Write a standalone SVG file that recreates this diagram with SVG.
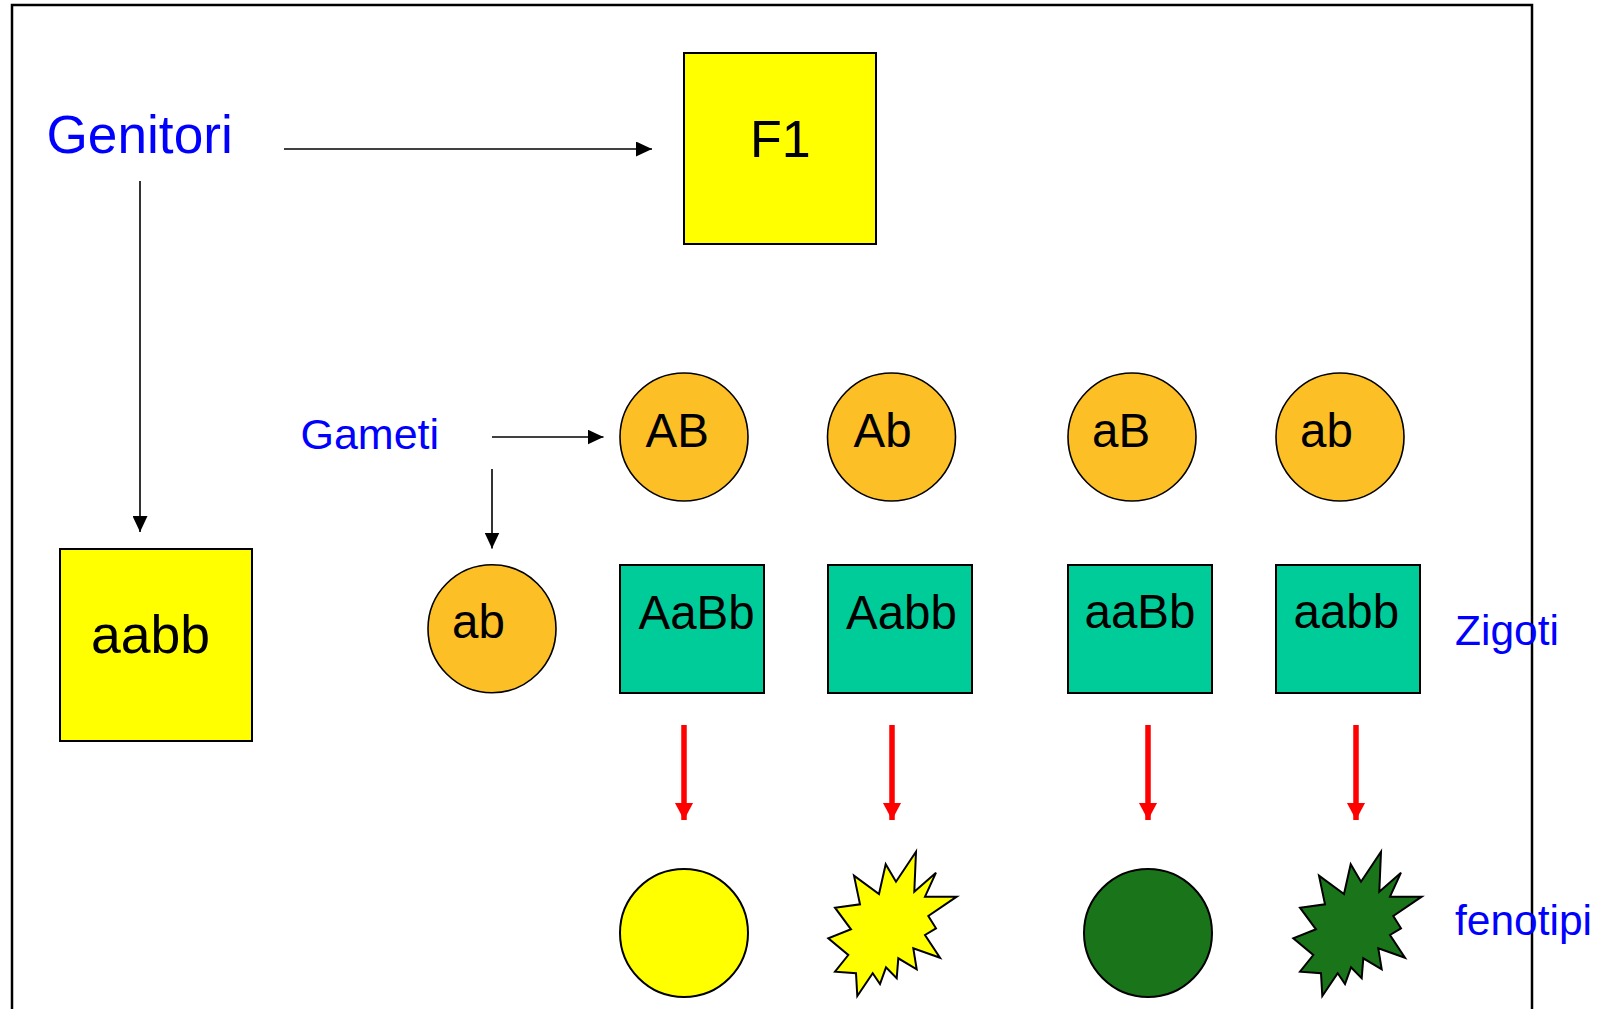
<svg xmlns="http://www.w3.org/2000/svg" width="1609" height="1009" viewBox="0 0 1609 1009">
<defs>
<style>
text { font-family: "Liberation Sans", Arial, sans-serif; }
.lbl { fill: #0000FF; font-size: 42.5px; }
.big { fill: #000; font-size: 52px; }
.g { fill: #000; font-size: 47.5px; }
.gam { fill: #FCBF26; stroke: #000; stroke-width: 1.6; }
.zyg { fill: #00CC99; stroke: #000; stroke-width: 2; }
.par { fill: #FFFF00; stroke: #000; stroke-width: 2; }
.conn { stroke: #000; stroke-width: 1.6; fill: none; }
.red { stroke: #FF0000; stroke-width: 5.5; fill: none; }
</style>
<marker id="ah" markerUnits="userSpaceOnUse" markerWidth="16" markerHeight="15" refX="16" refY="7.5" orient="auto">
<path d="M0,0 L16,7.5 L0,15 z" fill="#000"/>
</marker>
<marker id="rh" markerUnits="userSpaceOnUse" markerWidth="18" markerHeight="18" refX="17" refY="9" orient="auto">
<path d="M0,0 L17,9 L0,18 z" fill="#FF0000"/>
</marker>
<polygon id="star" points="916,851.7 914.3,891.7 936,872.7 925,896.7 956.7,896.7 928.3,916 936,928.3 925,935 940,957.7 913.3,948.3 916.7,969.3 898.3,958.3 896.7,978.3 886,967.3 880,984 872.7,973.3 857.3,996 856,973.3 835,971.7 848.3,955 828.3,938.3 851,929.3 835,907.7 860,904.3 854,875.7 879,894 885.7,864.3 896,881.7" stroke="#000" stroke-width="2" stroke-linejoin="miter"/>
</defs>
<rect x="0" y="0" width="1609" height="1009" fill="#FFFFFF"/>
<rect id="frame" x="12" y="5" width="1520" height="1030" fill="none" stroke="#000" stroke-width="2.5"/>

<g id="connectors">
<line class="conn" x1="284" y1="149" x2="652" y2="149" marker-end="url(#ah)"/>
<line class="conn" x1="140" y1="181" x2="140" y2="532" marker-end="url(#ah)"/>
<line class="conn" x1="492" y1="437" x2="603.5" y2="437" marker-end="url(#ah)"/>
<line class="conn" x1="492" y1="469" x2="492" y2="548.5" marker-end="url(#ah)"/>
<line class="red" x1="684" y1="725" x2="684" y2="820" marker-end="url(#rh)"/>
<line class="red" x1="892" y1="725" x2="892" y2="820" marker-end="url(#rh)"/>
<line class="red" x1="1148" y1="725" x2="1148" y2="820" marker-end="url(#rh)"/>
<line class="red" x1="1356" y1="725" x2="1356" y2="820" marker-end="url(#rh)"/>
</g>

<g id="genitori"><text class="lbl" x="46.5" y="153" style="font-size:53.2px">Genitori</text></g>
<g id="f1"><rect class="par" x="684" y="53" width="192" height="191"/><text class="big" x="750" y="157">F1</text></g>
<g id="parent-aabb"><rect class="par" x="60" y="549" width="192" height="192"/><text class="big" x="91" y="653" style="font-size:53.5px">aabb</text></g>
<g id="gameti"><text class="lbl" x="300.5" y="449" style="font-size:43px">Gameti</text></g>

<g id="gamete-AB"><circle class="gam" cx="684" cy="437" r="64"/><text class="g" x="645.5" y="447">AB</text></g>
<g id="gamete-Ab"><circle class="gam" cx="891.5" cy="437" r="64"/><text class="g" x="853.5" y="447">Ab</text></g>
<g id="gamete-aB"><circle class="gam" cx="1132" cy="437" r="64"/><text class="g" x="1092" y="447">aB</text></g>
<g id="gamete-ab"><circle class="gam" cx="1340" cy="437" r="64"/><text class="g" x="1300" y="447">ab</text></g>
<g id="gamete-ab-left"><circle class="gam" cx="492" cy="628.7" r="64"/><text class="g" x="452" y="638">ab</text></g>

<g id="zygote-AaBb"><rect class="zyg" x="620" y="565" width="144" height="128"/><text class="g" x="638.5" y="629">AaBb</text></g>
<g id="zygote-Aabb"><rect class="zyg" x="828" y="565" width="144" height="128"/><text class="g" x="846" y="629">Aabb</text></g>
<g id="zygote-aaBb"><rect class="zyg" x="1068" y="565" width="144" height="128"/><text class="g" x="1084.5" y="628">aaBb</text></g>
<g id="zygote-aabb"><rect class="zyg" x="1276" y="565" width="144" height="128"/><text class="g" x="1293.5" y="628">aabb</text></g>
<g id="zigoti"><text class="lbl" x="1455" y="645">Zigoti</text></g>

<g id="pheno-yellow-round"><circle cx="684" cy="933" r="64" fill="#FFFF00" stroke="#000" stroke-width="2"/></g>
<g id="pheno-yellow-wrinkled"><use href="#star" fill="#FFFF00"/></g>
<g id="pheno-green-round"><circle cx="1148" cy="933" r="64" fill="#1A751A" stroke="#000" stroke-width="2"/></g>
<g id="pheno-green-wrinkled"><use href="#star" fill="#1A751A" transform="translate(465,0)"/></g>
<g id="fenotipi"><text class="lbl" x="1455" y="935">fenotipi</text></g>
</svg>
